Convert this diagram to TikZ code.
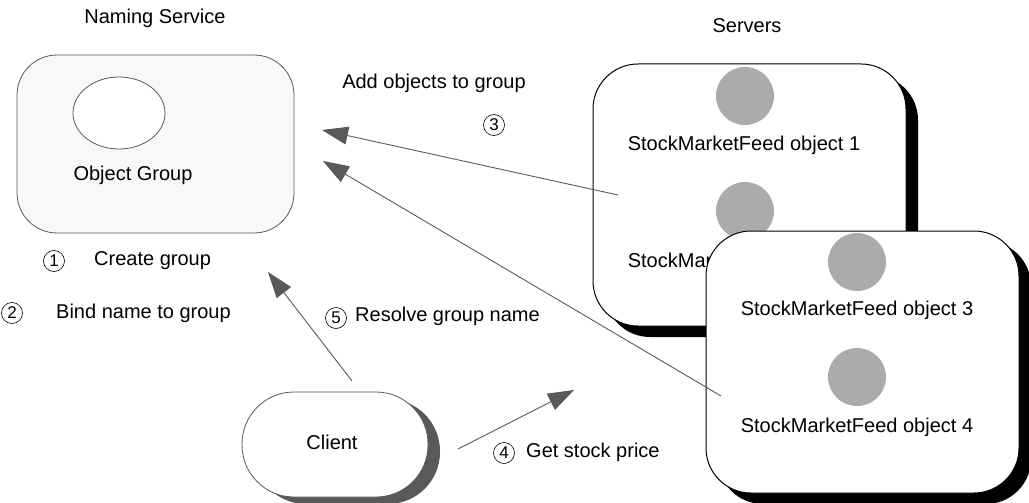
\documentclass[tikz,border=0pt]{standalone}
\usepackage{fontspec}
\setmainfont{Liberation Sans}
\usetikzlibrary{arrows.meta,shadows,shapes.geometric}
\definecolor{arrowgray}{HTML}{595959}
\definecolor{objgray}{HTML}{ABABAB}
\definecolor{nsfill}{HTML}{F8F8F8}
\begin{document}
\begin{tikzpicture}[x=1pt,y=-1pt,
  every node/.style={font=\fontsize{20}{24}\selectfont},
  num/.style={circle,draw,line width=0.6pt,minimum size=21pt,inner sep=0pt,font=\fontsize{17}{19}\selectfont},
  obj/.style={circle,fill=objgray,minimum size=58pt,inner sep=0pt},
  server/.style={draw=black,line width=1pt,fill=white,rounded corners=45pt,minimum width=313pt,minimum height=262pt,
    drop shadow={shadow xshift=12pt,shadow yshift=-11pt,fill=black,opacity=1}},
  conn/.style={draw=arrowgray,line width=0.9pt,-{Triangle[length=26pt,width=18pt,fill=arrowgray]}}
]
\useasboundingbox (0,0) rectangle (1029,503);

% Naming service
\node (nstitle) at (155,18) {Naming Service};
\node[draw=arrowgray,line width=0.8pt,fill=nsfill,rounded corners=40pt,minimum width=277pt,minimum height=178pt] (ns) at (155.5,144) {};
\node[draw=arrowgray,line width=0.8pt,fill=white,ellipse,minimum width=92pt,minimum height=72pt,inner sep=0pt] (grp) at (119,113) {};
\node (grplbl) at (133,175) {Object Group};

\node[num] (n1) at (54,261) {1};
\node[anchor=west,inner sep=0pt] (t1) at (94,261) {Create group};
\node[num] (n2) at (12,313) {2};
\node[anchor=west,inner sep=0pt] (t2) at (56,313) {Bind name to group};

% Labels
\node (addlbl) at (434,83) {Add objects to group};
\node[num] (n3) at (494,125) {3};
\node (srvtitle) at (747,26) {Servers};

% Server 1
\node[server] (s1) at (749.5,195) {};
\node[obj] (o1) at (745,96) {};
\node (t1o) at (744,145) {StockMarketFeed object 1};
\node[obj] (o2) at (745,211) {};
\node (t2o) at (744,262) {StockMarketFeed object 2};

% Server 2
\node[server,drop shadow={shadow xshift=12pt,shadow yshift=-10pt,fill=black,opacity=1}] (s2) at (862.5,362) {};
\node[obj] (o3) at (857,262) {};
\node (t3o) at (857,310) {StockMarketFeed object 3};
\node[obj] (o4) at (857,377) {};
\node (t4o) at (857,427) {StockMarketFeed object 4};

% Client
\node[draw=arrowgray,line width=0.8pt,fill=white,rounded corners=52pt,minimum width=186pt,minimum height=105pt,
  drop shadow={shadow xshift=12pt,shadow yshift=-7pt,fill=arrowgray,opacity=1}] (cl) at (335,444.5) {};
\node (cllbl) at (332,442) {Client};

\node[num] (n5) at (336,318) {5};
\node[anchor=west,inner sep=0pt] (t5) at (355,316) {Resolve group name};
\node[num] (n4) at (504,453) {4};
\node[anchor=west,inner sep=0pt] (t4) at (526,452) {Get stock price};

% Connectors
\coordinate (a1s) at (618,195);
\coordinate (a1e) at (322,130);
\coordinate (a2s) at (721,396);
\coordinate (a2e) at (323,161);
\coordinate (a5s) at (352,381);
\coordinate (a5e) at (268,272);
\coordinate (a4s) at (458,449);
\coordinate (a4e) at (574,390);
\draw[conn] (a1s) -- (a1e);
\draw[conn] (a2s) -- (a2e);
\draw[conn] (a5s) -- (a5e);
\draw[conn] (a4s) -- (a4e);
\end{tikzpicture}
\end{document}
